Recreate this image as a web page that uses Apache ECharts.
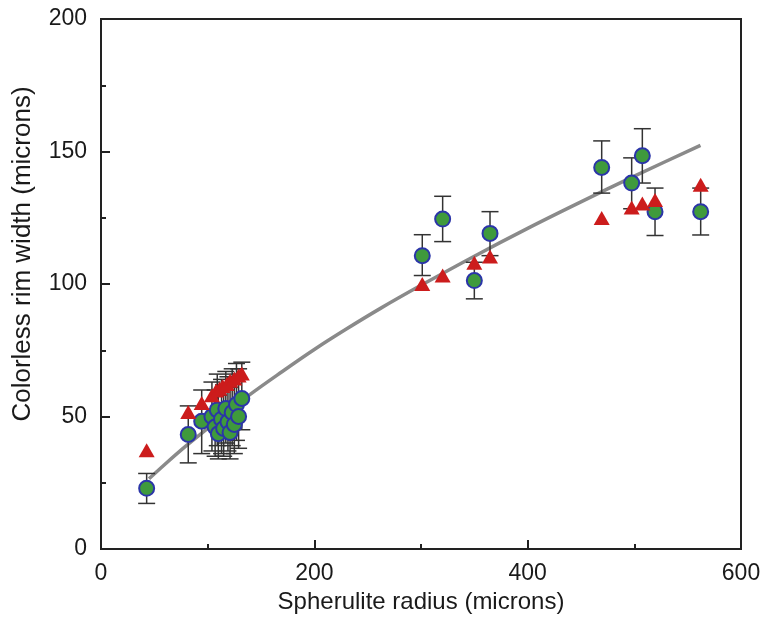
<!DOCTYPE html>
<html>
<head>
<meta charset="utf-8">
<script src="https://cdn.jsdelivr.net/npm/echarts@6/dist/echarts.min.js"></script>
<style>
html,body{margin:0;padding:0;background:#fff;}
#chart{width:765px;height:619px;}
</style>
</head>
<body>
<div id="chart"></div>
<script>
// Circles (with error bars)
var circX  = [42.8, 81.8, 94.4, 104, 107, 109, 110, 113, 115, 117, 119, 121, 123, 125, 127, 129, 132, 301.2, 320.3, 350, 364.7, 469.4, 497.5, 507.5, 519.4, 562.2];
var circY  = [22.9, 43.2, 48.2, 50, 46, 52.5, 43.5, 49, 45.5, 53, 48, 44, 51.5, 47, 54.5, 50, 56.8, 110.7, 124.5, 101.3, 119.1, 144, 138.1, 148.4, 127.3, 127.3];
var circLo = [17.2, 32.5, 36, 37, 35, 39, 34, 36, 35, 40, 37, 34, 39, 36, 41, 38, 45, 103.2, 116, 94.4, 110.7, 134.3, 128.4, 138.1, 118.3, 118.5];
var circHi = [28.5, 54, 60, 63, 60, 66, 58, 64, 62, 67, 65, 61, 68, 66, 70, 68, 70.5, 118.6, 133.1, 108.2, 127.3, 154, 147.6, 158.6, 136.2, 136.2];
// Triangles
var triX = [42.8, 81.8, 94.4, 104, 108, 111, 114, 118, 121, 125, 129, 132, 301.2, 320.3, 350, 364.7, 469.4, 497.5, 507.5, 519.4, 562.2];
var triY = [37.3, 51.7, 55.1, 58, 59.8, 60.5, 61.5, 62.3, 63.5, 64.3, 65.5, 66.2, 100, 103.2, 108, 110.4, 124.9, 128.9, 130.4, 131.7, 137.5];
// Fitted curve
var fitX = [45, 60, 80, 100, 137, 170, 200, 230, 262, 300, 350, 400, 449, 500, 562];
var fitY = [26.5, 32, 39, 45.5, 57.5, 67, 75.3, 83, 90.8, 99.5, 110.5, 121, 130.8, 140.7, 152.3];
// Axis
var xTicks = [0, 200, 400, 600];
var yTicks = [0, 50, 100, 150, 200];

var circData = circX.map(function(x,i){return [x, circY[i]];});
var errData = circX.map(function(x,i){return [x, circLo[i], circHi[i]];});
var triData = triX.map(function(x,i){return [x, triY[i]];});
var fitData = fitX.map(function(x,i){return [x, fitY[i]];});

var font = '"Liberation Sans", Arial, Helvetica, sans-serif';
var chart = echarts.init(document.getElementById('chart'));
chart.setOption({
  animation: false,
  backgroundColor: '#fff',
  grid: {left: 101, right: 24, top: 19, bottom: 70, show: true, borderColor: '#222', borderWidth: 2, backgroundColor: 'transparent'},
  xAxis: {
    type: 'value', min: xTicks[0], max: xTicks[xTicks.length-1], interval: 200,
    name: 'Spherulite radius (microns)', nameLocation: 'middle', nameGap: 41,
    nameTextStyle: {fontSize: 24, color: '#1a1a1a', fontFamily: font},
    axisLine: {show: true, lineStyle: {color: '#222', width: 2}},
    axisTick: {show: true, inside: true, length: 9, lineStyle: {color: '#222', width: 2}},
    minorTick: {show: true, splitNumber: 2, length: 5, lineStyle: {color: '#222', width: 2}},
    axisLabel: {fontSize: 23, color: '#1a1a1a', fontFamily: font, margin: 13},
    splitLine: {show: false}
  },
  yAxis: {
    type: 'value', min: yTicks[0], max: yTicks[yTicks.length-1], interval: 50,
    name: 'Colorless rim width (microns)', nameLocation: 'middle', nameGap: 65,
    nameTextStyle: {fontSize: 26, color: '#1a1a1a', fontFamily: font, padding: [0, 0, 0, 60]},
    axisLine: {show: true, lineStyle: {color: '#222', width: 2}},
    axisTick: {show: true, inside: true, length: 9, lineStyle: {color: '#222', width: 2}},
    minorTick: {show: true, splitNumber: 2, length: 5, lineStyle: {color: '#222', width: 2}},
    axisLabel: {fontSize: 23, color: '#1a1a1a', fontFamily: font, margin: 14},
    splitLine: {show: false}
  },
  series: [
    {
      type: 'line', data: fitData, smooth: 0.3, showSymbol: false, z: 1,
      lineStyle: {color: '#8a8a8a', width: 3.5}
    },
    {
      type: 'custom', z: 2, data: errData,
      renderItem: function(params, api){
        var x = api.value(0), lo = api.value(1), hi = api.value(2);
        var p1 = api.coord([x, lo]), p2 = api.coord([x, hi]);
        var w = 8.5;
        var st = {stroke: '#333', lineWidth: 1.5};
        return {type: 'group', children: [
          {type: 'line', shape: {x1: p1[0], y1: p1[1], x2: p2[0], y2: p2[1]}, style: st},
          {type: 'line', shape: {x1: p1[0]-w, y1: p1[1], x2: p1[0]+w, y2: p1[1]}, style: st},
          {type: 'line', shape: {x1: p2[0]-w, y1: p2[1], x2: p2[0]+w, y2: p2[1]}, style: st}
        ]};
      }
    },
    {
      type: 'scatter', data: circData, z: 3, symbol: 'circle', symbolSize: 15,
      itemStyle: {color: '#3f9a3c', borderColor: '#2b35a8', borderWidth: 2, opacity: 1}
    },
    {
      type: 'scatter', data: triData, z: 4, symbol: 'triangle', symbolSize: [16, 14],
      itemStyle: {color: '#cc1c1c', opacity: 1}
    }
  ]
});
</script>
</body>
</html>
